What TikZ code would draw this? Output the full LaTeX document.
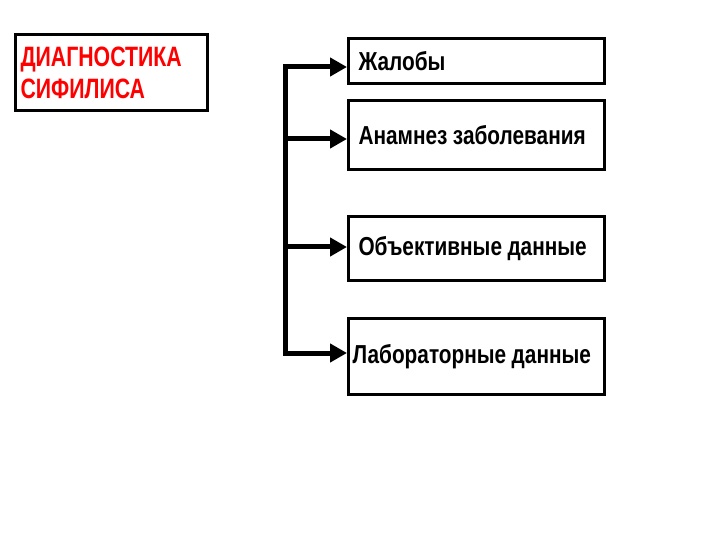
\documentclass[tikz,border=0pt]{standalone}
\usepackage{fontspec}
\usetikzlibrary{arrows.meta}
\newfontfamily\impactfont[FakeStretch=0.8,WordSpace=0.95]{Liberation Sans Bold}
\newfontfamily\impacttitle[FakeStretch=0.76]{Liberation Sans Bold}
\newcommand{\boxtext}[2][236bp]{\makebox[#1][l]{#2}}
\begin{document}
\begin{tikzpicture}[x=1bp,y=-1bp,
  box/.style={draw=black,line width=3bp,minimum width=256bp,anchor=north west,
    inner xsep=10bp,inner ysep=0bp,
    font=\impactfont\fontsize{26bp}{28bp}\selectfont},
  titlebox/.style={draw=black,line width=3bp,minimum width=192bp,minimum height=76bp,
    anchor=north west,inner xsep=5bp,align=left,text width=182bp,text=red,
    font=\impacttitle\fontsize{28bp}{32bp}\selectfont},
  conn/.style={line width=5bp,-{Triangle[length=17bp,width=18bp]}},
  trunk/.style={line width=5bp,line cap=rect}]
\useasboundingbox (0,0) rectangle (720,540);
\node[titlebox] (title) at (14,33) {ДИАГНОСТИКА\\СИФИЛИСА};
\node[box,minimum height=45bp] (b1) at (347,37) {\boxtext{Жалобы}};
\node[box,minimum height=69bp] (b2) at (347,99) {\boxtext{Анамнез заболевания}};
\node[box,minimum height=64bp] (b3) at (347,215) {\boxtext{Объективные данные}};
\node[box,minimum height=76bp,inner xsep=4bp] (b4) at (347,317) {\boxtext[248bp]{Лабораторные данные}};
\coordinate (j1) at (285,67);
\coordinate (j2) at (285,139);
\coordinate (j3) at (285,247);
\coordinate (j4) at (285,353);
\draw[trunk] (j1) -- (j4);
\draw[conn] (j1) -- (j1 -| b1.west);
\draw[conn] (j2) -- (j2 -| b2.west);
\draw[conn] (j3) -- (j3 -| b3.west);
\draw[conn] (j4) -- (j4 -| b4.west);
\end{tikzpicture}
\end{document}
